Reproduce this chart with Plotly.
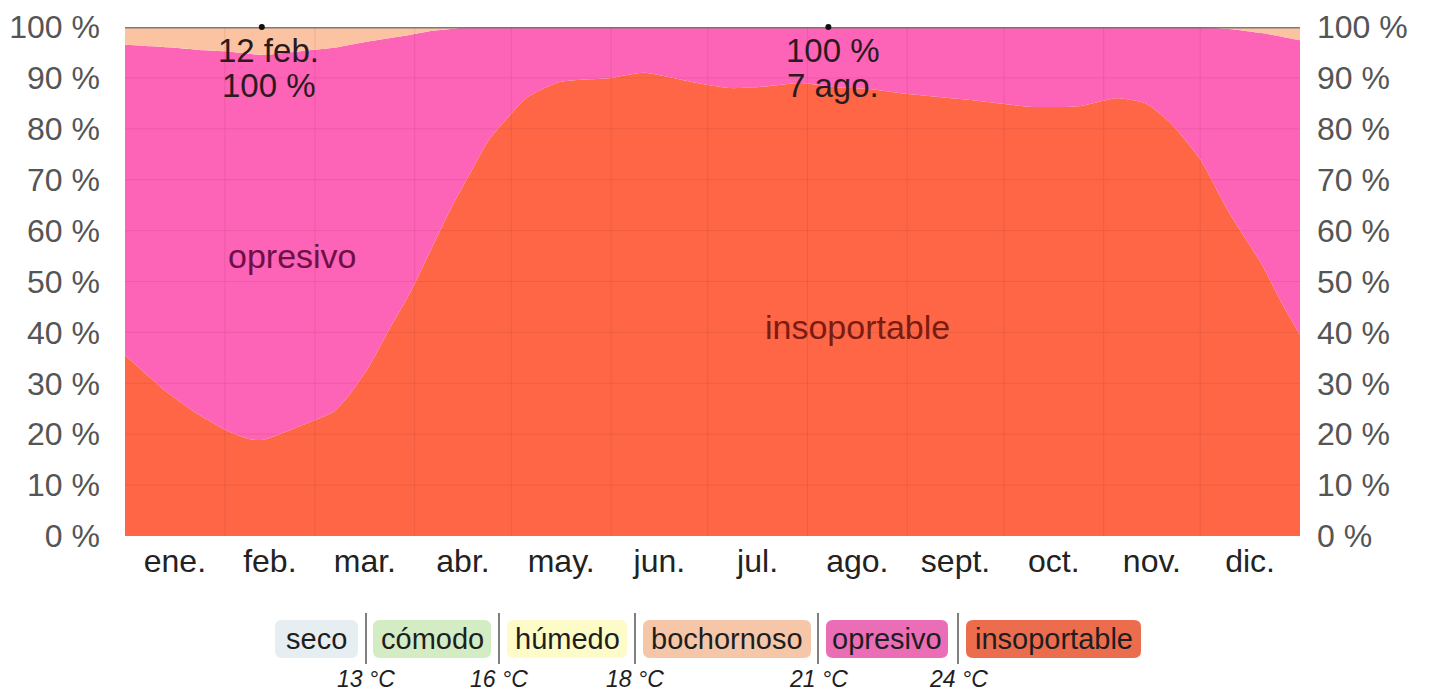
import plotly.graph_objects as go

# ---------------- data ----------------
days = [0, 8, 13, 23, 32, 39, 43, 54, 65, 70, 76, 82, 89, 95, 101, 107, 113, 120, 125,
        135, 151, 161, 176, 188, 197, 210, 220, 231, 241, 262, 282, 297, 308, 317, 325,
        334, 343, 353, 360, 365]
# cumulative boundary readings (percent)
insoportable = [35.5, 31.0, 28.3, 23.8, 20.6, 19.0, 18.9, 21.5, 24.5, 28.0, 33.5, 40.5,
                48.3, 56.2, 64.0, 71.0, 77.8, 83.0, 86.2, 89.2, 90.0, 91.0, 89.2, 88.0,
                88.2, 89.0, 88.2, 87.8, 87.0, 85.7, 84.3, 84.5, 86.0, 85.0, 81.0, 74.0,
                63.5, 53.5, 45.0, 39.5]
opresivo_top = [96.5, 96.2, 96.0, 95.5, 95.2, 94.7, 94.5, 95.2, 95.9, 96.5, 97.2, 97.8,
                98.5, 99.2, 99.6, 100, 100, 100, 100, 100, 100, 100, 100, 100,
                100, 100, 100, 100, 100, 100, 100, 100, 100, 100, 100, 100,
                99.6, 98.8, 98.0, 97.4]
opresivo = [round(t - b, 2) for t, b in zip(opresivo_top, insoportable)]
bochornoso = [round(100 - t, 2) for t in opresivo_top]

months = ["ene.", "feb.", "mar.", "abr.", "may.", "jun.", "jul.", "ago.", "sept.",
          "oct.", "nov.", "dic."]
month_mid = [15.5, 45, 74.5, 105, 135.5, 166, 196.5, 227.5, 258, 288.5, 319, 349.5]
month_edges = [0, 31, 59, 90, 120, 151, 181, 212, 243, 273, 304, 334, 365]
y_ticks = [0, 10, 20, 30, 40, 50, 60, 70, 80, 90, 100]
y_ticktext = [f"{v} %" for v in y_ticks]

peak_days = [42.5, 218.5]
peak_values = [100, 100]
peak_dates = ["12 feb.", "7 ago."]

legend_labels = ["seco", "cómodo", "húmedo", "bochornoso", "opresivo", "insoportable"]
legend_temps = ["13 °C", "16 °C", "18 °C", "21 °C", "24 °C"]

# ---------------- styles ----------------
C_INSOP = "#fe6646"
C_OPRES = "#fd63b6"
C_BOCH = "#fbc3a1"
legend_colors = ["#e7eef1", "#d4ecc4", "#fdfbc8", "#f6c6a8", "#ea6db6", "#ec6c4e"]
FONT = "Liberation Sans, Arial, Helvetica, sans-serif"

W, H = 1429, 692
ML, MR, MT, MB = 125, 129, 27, 156
PW, PH = W - ML - MR, H - MT - MB


def px(x):
    return (x - ML) / PW


def py(y):
    return (H - MB - y) / PH


fig = go.Figure()
fig.add_trace(go.Scatter(x=days, y=insoportable, stackgroup="s", mode="lines",
                         line=dict(width=0, shape="spline", smoothing=0.6),
                         fillcolor=C_INSOP, name="insoportable", hoverinfo="skip"))
fig.add_trace(go.Scatter(x=days, y=opresivo, stackgroup="s", mode="lines",
                         line=dict(width=0, shape="spline", smoothing=0.6),
                         fillcolor=C_OPRES, name="opresivo", hoverinfo="skip"))
fig.add_trace(go.Scatter(x=days, y=bochornoso, stackgroup="s", mode="lines",
                         line=dict(width=0, shape="spline", smoothing=0.6),
                         fillcolor=C_BOCH, name="bochornoso", hoverinfo="skip"))
fig.add_trace(go.Scatter(x=[month_edges[0], month_edges[-1]], y=[100, 100], mode="lines",
                         line=dict(color="rgba(120,112,108,0.9)", width=3),
                         hoverinfo="skip"))
fig.add_trace(go.Scatter(x=peak_days, y=peak_values, mode="markers",
                         marker=dict(color="#111", size=6), hoverinfo="skip",
                         cliponaxis=False))
fig.add_trace(go.Scatter(x=[0, 365], y=[0, 100], yaxis="y2", mode="markers",
                         marker=dict(opacity=0), hoverinfo="skip"))

shapes = []
# grid lines above fills
for e in month_edges[1:-1]:
    shapes.append(dict(type="line", xref="x", yref="y", x0=e, x1=e, y0=0, y1=100,
                       line=dict(color="rgba(110,30,40,0.10)", width=1), layer="above"))
for t in y_ticks[1:-1]:
    shapes.append(dict(type="line", xref="x", yref="y", x0=0, x1=365, y0=t, y1=t,
                       line=dict(color="rgba(110,30,40,0.10)", width=1), layer="above"))

annotations = []
ann_font = dict(size=33, color="#2a1a1e", family=FONT)
annotations.append(dict(x=peak_days[0], y=95.3, xref="x", yref="y", text=peak_dates[0],
                        showarrow=False, xshift=7, font=ann_font))
annotations.append(dict(x=peak_days[0], y=88.6, xref="x", yref="y", text=f"{peak_values[0]} %",
                        showarrow=False, xshift=7, font=ann_font))
annotations.append(dict(x=peak_days[1], y=95.3, xref="x", yref="y", text=f"{peak_values[1]} %",
                        showarrow=False, xshift=5, font=ann_font))
annotations.append(dict(x=peak_days[1], y=88.6, xref="x", yref="y", text=peak_dates[1],
                        showarrow=False, xshift=5, font=ann_font))
# area labels
annotations.append(dict(x=52, y=55, xref="x", yref="y", text="opresivo", showarrow=False,
                        font=dict(size=34, color="#6d1046", family=FONT)))
annotations.append(dict(x=227.5, y=41, xref="x", yref="y", text="insoportable", showarrow=False,
                        font=dict(size=34, color="#7a1c12", family=FONT)))

# legend
box_x = [(275, 358), (373, 491), (507, 627), (643, 811), (826, 948), (966, 1141)]
sep_x = [366, 499, 635, 818, 958]
by0, by1 = py(658), py(620)
r = 7
for (x0, x1), lab, col in zip(box_x, legend_labels, legend_colors):
    a0, a1 = px(x0), px(x1)
    rx, ry = r / PW, r / PH
    path = (f"M {a0+rx},{by0} L {a1-rx},{by0} Q {a1},{by0} {a1},{by0+ry} "
            f"L {a1},{by1-ry} Q {a1},{by1} {a1-rx},{by1} L {a0+rx},{by1} "
            f"Q {a0},{by1} {a0},{by1-ry} L {a0},{by0+ry} Q {a0},{by0} {a0+rx},{by0} Z")
    shapes.append(dict(type="path", xref="paper", yref="paper", path=path,
                       fillcolor=col, line=dict(width=0), layer="above"))
    annotations.append(dict(x=px((x0 + x1) / 2), y=py(639), xref="paper", yref="paper",
                            xanchor="center", yanchor="middle",
                            text=lab, showarrow=False,
                            font=dict(size=29, color="#1e1e1e", family=FONT)))
for s, t in zip(sep_x, legend_temps):
    shapes.append(dict(type="line", xref="paper", yref="paper", x0=px(s), x1=px(s),
                       y0=py(664), y1=py(613), line=dict(color="#555", width=1.5)))
    annotations.append(dict(x=px(s), y=py(679), xref="paper", yref="paper",
                            xanchor="center", yanchor="middle",
                            text=f"<i>{t}</i>", showarrow=False,
                            font=dict(size=23, color="#1e1e1e", family=FONT)))

fig.update_layout(
    width=W, height=H,
    margin=dict(l=ML, r=MR, t=MT, b=MB, pad=0, autoexpand=False),
    paper_bgcolor="white", plot_bgcolor="white",
    showlegend=False,
    shapes=shapes, annotations=annotations,
    xaxis=dict(range=[0, 365], tickvals=month_mid, ticktext=months, showgrid=False,
               zeroline=False, showline=False, ticks="", ticklabelstandoff=3,
               tickfont=dict(size=32, color="#222", family=FONT), fixedrange=True),
    yaxis=dict(range=[0, 100], tickvals=y_ticks, ticktext=y_ticktext, showgrid=False,
               zeroline=False, showline=False, ticks="", ticklabelstandoff=24,
               tickfont=dict(size=32, color="#555", family=FONT)),
    yaxis2=dict(range=[0, 100], tickvals=y_ticks, ticktext=y_ticktext, overlaying="y",
                side="right", showgrid=False, zeroline=False, showline=False, ticks="",
                ticklabelstandoff=16, tickfont=dict(size=32, color="#555", family=FONT)),
)

fig.write_html("out.html", config={"displayModeBar": False},
               post_script="document.body.style.margin='0';")
